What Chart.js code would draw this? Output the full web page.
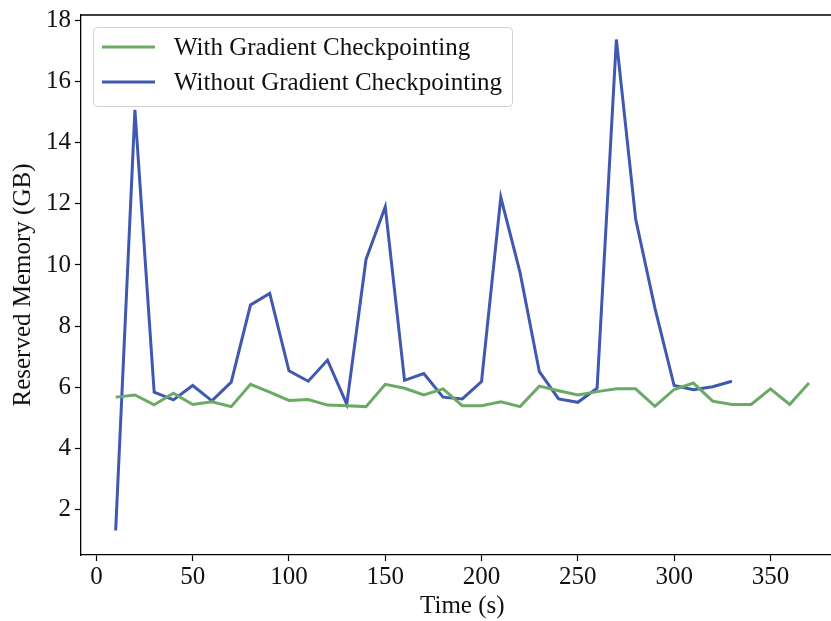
<!DOCTYPE html>
<html>
<head>
<meta charset="utf-8">
<script src="https://cdn.jsdelivr.net/npm/chart.js@4"></script>
<style>
  html, body { margin: 0; padding: 0; background: #fff; overflow: hidden; }
  #wrap { width: 870px; height: 621px; }
</style>
</head>
<body>
<div id="wrap"><canvas id="chart" width="870" height="621"></canvas></div>
<script>
// sample times (s)
var withTimes = [10, 20, 30, 40, 50, 60, 70, 80, 90, 100, 110, 120, 130, 140, 150, 160, 170, 180, 190,
                 200, 210, 220, 230, 240, 250, 260, 270, 280, 290, 300, 310, 320, 330, 340, 350, 360, 370]
var withoutTimes = [10, 20, 30, 40, 50, 60, 70, 80, 90, 100, 110, 120, 130, 140, 150, 160, 170,
                    180, 190, 200, 210, 220, 230, 240, 250, 260, 270, 280, 290, 300, 310, 320, 330]

// reserved memory (GB)
var withCkpt = [5.68, 5.75, 5.43, 5.81, 5.44, 5.53, 5.37, 6.10, 5.84, 5.57, 5.60, 5.42, 5.40, 5.37,
                6.10, 5.97, 5.75, 5.95, 5.40, 5.40, 5.53, 5.37, 6.04, 5.89, 5.75, 5.86, 5.95, 5.95,
                5.38, 5.93, 6.14, 5.55, 5.44, 5.44, 5.95, 5.44, 6.14]
var withoutCkpt = [1.32, 15.07, 5.84, 5.59, 6.06, 5.56, 6.17, 8.69, 9.07, 6.54, 6.20, 6.89, 5.45,
                   10.18, 11.90, 6.23, 6.45, 5.68, 5.62, 6.19, 12.21, 9.75, 6.51, 5.62, 5.51, 5.97,
                   17.37, 11.51, 8.6, 6.06, 5.92, 6.02, 6.20]

var xTicks = [0, 50, 100, 150, 200, 250, 300, 350]
var yTicks = [2, 4, 6, 8, 10, 12, 14, 16, 18]

var GREEN = 'rgb(106, 170, 100)'
var BLUE = 'rgb(64, 88, 176)'
var FONT = "'Liberation Serif', 'Times New Roman', serif"
var FS = 25

function pairs(xs, ys) {
    return xs.map(function (x, i) { return {x: x, y: ys[i]} })
}

// top spine + legend box inside the plot, like matplotlib
var framePlugin = {
    id: 'frame',
    afterDraw: function (chart) {
        var ctx = chart.ctx, a = chart.chartArea
        ctx.save()
        ctx.strokeStyle = '#000'
        ctx.lineWidth = 1.3
        ctx.beginPath()
        ctx.moveTo(a.left, a.top)
        ctx.lineTo(a.right, a.top)
        ctx.lineTo(a.right, a.bottom)
        ctx.stroke()

        // legend
        var bx = 93, by = 27, bw = 419, bh = 79, r = 4
        ctx.fillStyle = 'rgba(255,255,255,0.8)'
        ctx.strokeStyle = '#d0d0d0'
        ctx.lineWidth = 1
        ctx.beginPath()
        ctx.roundRect(bx + 0.5, by + 0.5, bw, bh, r)
        ctx.fill()
        ctx.stroke()
        ctx.font = FS + 'px ' + FONT
        ctx.textBaseline = 'middle'
        chart.data.datasets.forEach(function (ds, i) {
            var yy = 47 + i * 35
            ctx.strokeStyle = ds.borderColor
            ctx.lineWidth = 3
            ctx.beginPath()
            ctx.moveTo(102, yy)
            ctx.lineTo(155, yy)
            ctx.stroke()
            ctx.fillStyle = '#111'
            ctx.fillText(ds.label, 174, yy + 1)
        })
        ctx.restore()
    }
}

var chart = new Chart(document.getElementById('chart'), {
    type: 'line',
    data: {
        datasets: [{
            label: 'With Gradient Checkpointing',
            data: pairs(withTimes, withCkpt),
            borderColor: GREEN,
            borderWidth: 3
        }, {
            label: 'Without Gradient Checkpointing',
            data: pairs(withoutTimes, withoutCkpt),
            borderColor: BLUE,
            borderWidth: 3
        }]
    },
    options: {
        responsive: false,
        animation: false,
        layout: {padding: {top: 15, right: 870 - 843.6, left: 0, bottom: 0}},
        elements: {point: {radius: 0}, line: {tension: 0, borderJoinStyle: 'miter'}},
        plugins: {legend: {display: false}, tooltip: {enabled: false}},
        scales: {
            x: {
                type: 'linear',
                min: -8, max: 388,
                afterBuildTicks: function (s) { s.ticks = xTicks.map(function (v) { return {value: v} }) },
                afterFit: function (s) { s.height = 66 },
                grid: {drawOnChartArea: false, drawTicks: true, tickLength: 6, color: '#000', tickWidth: 1.2},
                border: {display: true, color: '#000', width: 1.3},
                ticks: {color: '#111', font: {family: FONT, size: FS}, padding: 1, maxRotation: 0},
                title: {display: true, text: 'Time (s)', color: '#111', font: {family: FONT, size: FS}, padding: {top: 0, bottom: 0}}
            },
            y: {
                min: 0.52, max: 18.17,
                afterBuildTicks: function (s) { s.ticks = yTicks.map(function (v) { return {value: v} }) },
                afterFit: function (s) {
                    s.width = 81
                    s.paddingTop = 0
                },
                grid: {drawOnChartArea: false, drawTicks: true, tickLength: 6, color: '#000', tickWidth: 1.2},
                border: {display: true, color: '#000', width: 1.3},
                ticks: {color: '#111', font: {family: FONT, size: FS}, padding: 4},
                title: {display: true, text: 'Reserved Memory (GB)', color: '#111', font: {family: FONT, size: FS}, padding: {top: 8, bottom: 0}}
            }
        }
    },
    plugins: [framePlugin]
})
</script>
</body>
</html>
